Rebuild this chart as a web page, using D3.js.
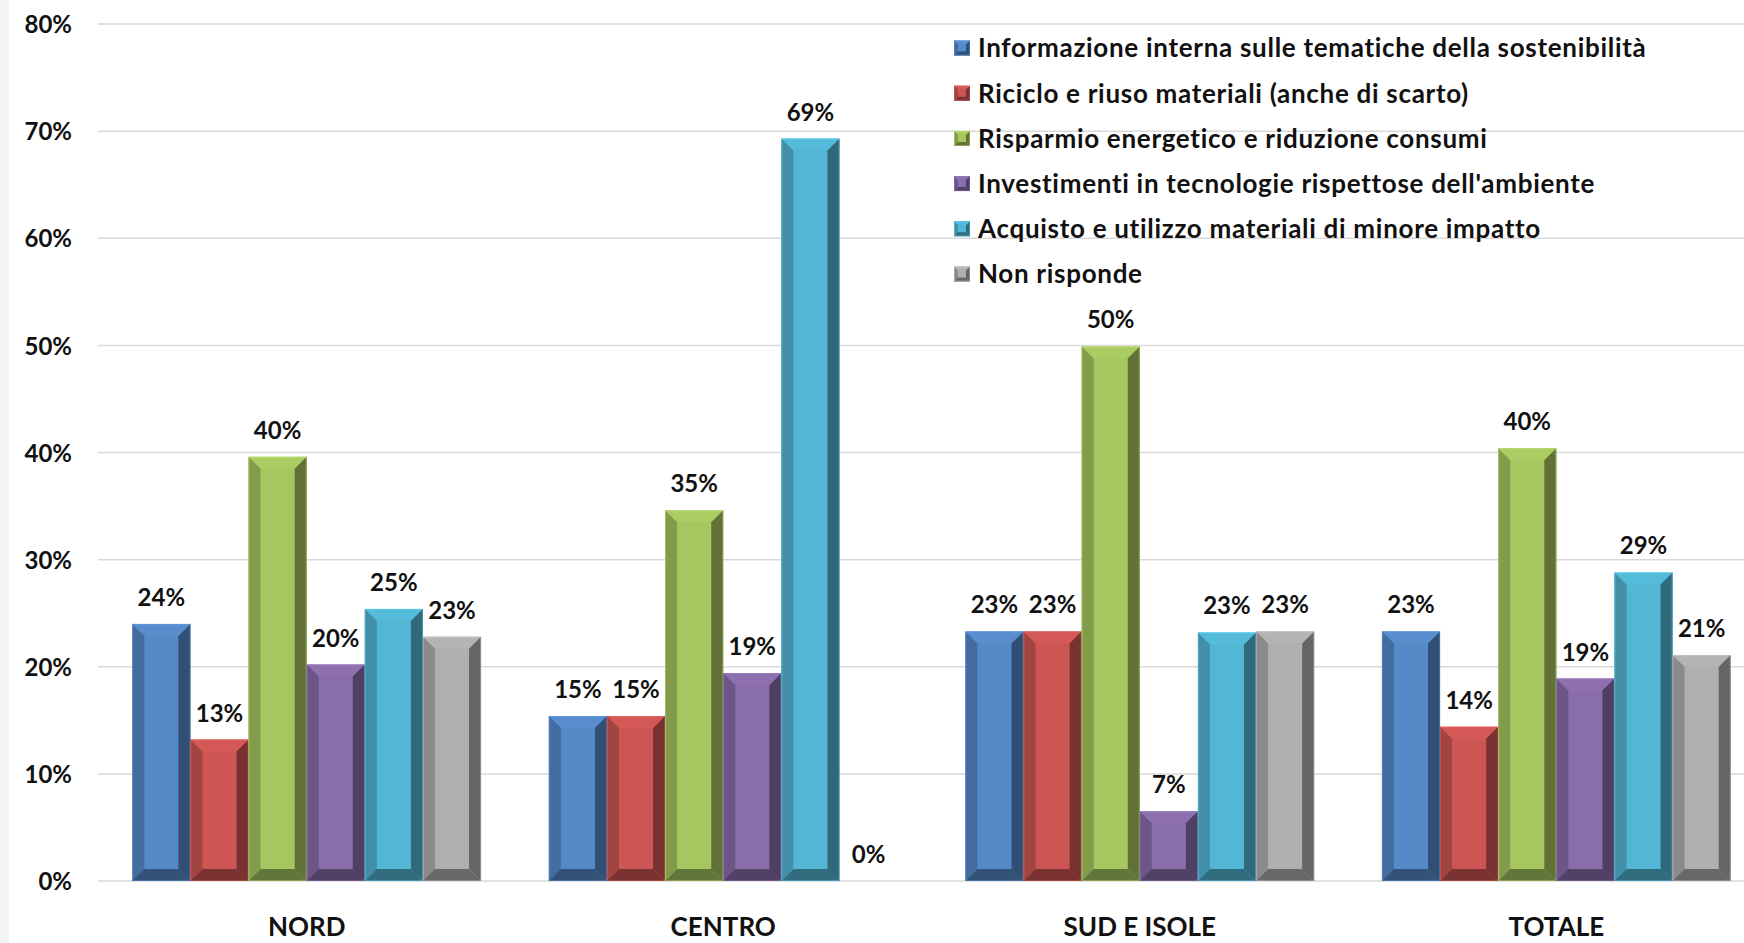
<!DOCTYPE html>
<html>
<head>
<meta charset="utf-8">
<script src="https://cdn.jsdelivr.net/npm/d3@7"></script>
<style>
  html, body { margin: 0; padding: 0; background: #fff; }
  svg text { font-family: Lato, "Open Sans", sans-serif; font-weight: 700; fill: #111; }
</style>
</head>
<body>
<svg id="chart"></svg>
<script>
(function () {
    var regions = ["NORD", "CENTRO", "SUD E ISOLE", "TOTALE"];
    var seriesNames = [
        "Informazione interna sulle tematiche della sostenibilità",
        "Riciclo e riuso materiali (anche di scarto)",
        "Risparmio energetico e riduzione consumi",
        "Investimenti in tecnologie rispettose dell'ambiente",
        "Acquisto e utilizzo materiali di minore impatto",
        "Non risponde"
    ];
    // values per series, in region order
    var informazione = [24.0, 15.4, 23.3, 23.3];
    var riciclo      = [13.2, 15.4, 23.3, 14.4];
    var risparmio    = [39.6, 34.6, 49.9, 40.4];
    var investimenti = [20.2, 19.4, 6.5, 18.9];
    var acquisto     = [25.4, 69.3, 23.2, 28.8];
    var nonRisponde  = [22.8, 0.0, 23.3, 21.1];
    var yTicks = [0, 10, 20, 30, 40, 50, 60, 70, 80];

    var seriesValues = [informazione, riciclo, risparmio, investimenti, acquisto, nonRisponde];
    var colors = ["#5689c8", "#cd5654", "#a6c660", "#8a6dab", "#52b6d4", "#afafaf"];

    var width = 1744,
        height = 943;

    var svg = d3.select("#chart")
        .attr("width", width)
        .attr("height", height);

    svg.append("rect")
        .attr("x", 0).attr("y", 0)
        .attr("width", 9).attr("height", height)
        .attr("fill", "#f2f4f4");

    var x = d3.scaleBand()
        .domain(regions)
        .range([98, 1765])
        .paddingInner(0.1627)
        .paddingOuter(0.0823);

    var xs = d3.scaleBand()
        .domain(d3.range(seriesNames.length))
        .range([0, x.bandwidth()]);

    var y = d3.scaleLinear()
        .domain([0, 80])
        .range([881, 24]);

    // gridlines
    svg.append("g").selectAll("line")
        .data(yTicks)
        .enter().append("line")
        .attr("x1", 98).attr("x2", width)
        .attr("y1", function (d) { return y(d); })
        .attr("y2", function (d) { return y(d); })
        .attr("stroke", "#d9d9d9")
        .attr("stroke-width", 1.5);

    // y axis labels
    var yAxis = d3.axisLeft(y)
        .tickValues(yTicks)
        .tickSize(0)
        .tickPadding(0)
        .tickFormat(function (d) { return d + "%"; });

    var ya = svg.append("g")
        .attr("transform", "translate(72,0)")
        .call(yAxis);
    ya.select(".domain").remove();
    ya.selectAll("text")
        .attr("font-size", 24)
        .attr("dy", "0.36em")
        .style("font-family", "Lato, sans-serif")
        .style("font-weight", 700);

    // x axis labels
    var xAxis = d3.axisBottom(x).tickSize(0).tickPadding(0);
    var xa = svg.append("g")
        .attr("transform", "translate(0,936)")
        .call(xAxis);
    xa.select(".domain").remove();
    xa.selectAll("text")
        .attr("dy", 0)
        .attr("y", 0)
        .attr("font-size", 26)
        .style("font-family", "Lato, sans-serif")
        .style("font-weight", 700);

    function bevelBar(g, x0, y0, w, h, col, b) {
        if (h <= 0) return;
        b = Math.min(b, h / 2, w / 2);
        var c = d3.color(col);
        var x1 = x0 + w, y1 = y0 + h;
        g.append("rect")
            .attr("x", x0).attr("y", y0)
            .attr("width", w).attr("height", h)
            .attr("fill", c.formatHex());
        var faces = [
            [[x0, y0], [x1, y0], [x1 - b, y0 + b], [x0 + b, y0 + b], c.brighter(0.08)],
            [[x0, y0], [x0 + b, y0 + b], [x0 + b, y1 - b], [x0, y1], c.darker(0.66)],
            [[x1, y0], [x1, y1], [x1 - b, y1 - b], [x1 - b, y0 + b], c.darker(1.55)],
            [[x0, y1], [x0 + b, y1 - b], [x1 - b, y1 - b], [x1, y1], c.darker(1.45)]
        ];
        faces.forEach(function (f) {
            g.append("polygon")
                .attr("points", f.slice(0, 4).map(function (p) { return p.join(","); }).join(" "))
                .attr("fill", f[4].formatHex());
        });
        g.append("rect")
            .attr("x", x0 + 0.5).attr("y", y0 + 0.5)
            .attr("width", w - 1).attr("height", h - 1)
            .attr("fill", "none")
            .attr("stroke", c.brighter(0.6).formatHex())
            .attr("stroke-opacity", 0.35)
            .attr("stroke-width", 1);
    }

    var bars = svg.append("g");
    regions.forEach(function (r, ri) {
        seriesValues.forEach(function (vals, si) {
            var v = vals[ri];
            var bx = x(r) + xs(si);
            var g = bars.append("g");
            bevelBar(g, bx, y(v), xs.bandwidth(), y(0) - y(v), colors[si], 12);
            bars.append("text")
                .attr("x", bx + xs.bandwidth() / 2)
                .attr("y", y(v) - 18)
                .attr("text-anchor", "middle")
                .attr("font-size", 24)
                .text(Math.round(v) + "%");
        });
    });

    // legend
    var legend = svg.append("g").attr("transform", "translate(954,48)");
    seriesNames.forEach(function (name, i) {
        var row = legend.append("g").attr("transform", "translate(0," + (i * 45.2) + ")");
        bevelBar(row, 0, -7.5, 16, 15, colors[i], 4);
        row.append("text")
            .attr("x", 24)
            .attr("y", 0)
            .attr("dy", "0.36em")
            .attr("font-size", 26)
            .attr("letter-spacing", 0.7)
            .text(name);
    });
})();
</script>
</body>
</html>
